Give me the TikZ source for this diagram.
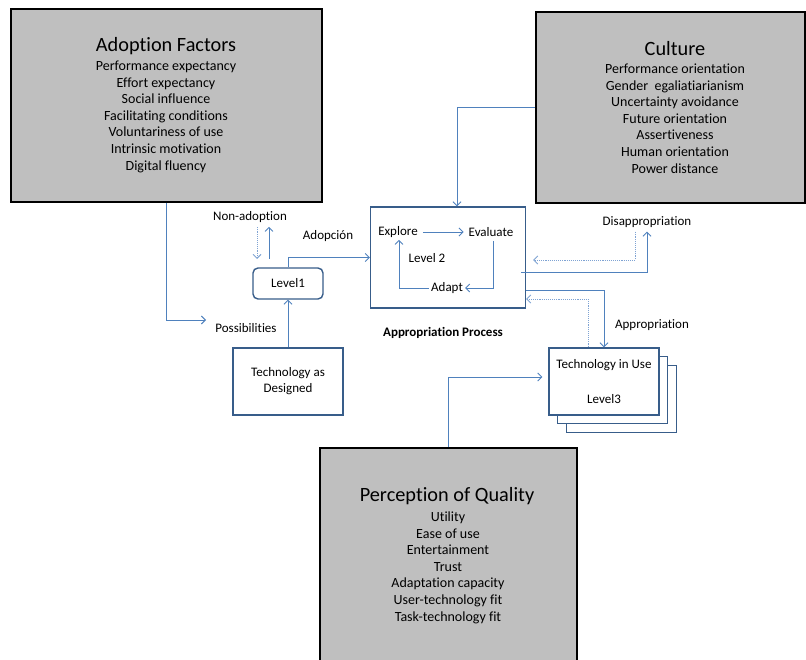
\documentclass[tikz,border=0pt]{standalone}
\usepackage{fontspec}
\setmainfont{Carlito}[Ligatures=CommonOff]
\usetikzlibrary{arrows.meta}
\definecolor{linkblue}{HTML}{4F81BD}
\definecolor{dotblue}{HTML}{7FA3D3}
\definecolor{boxblue}{HTML}{385D8A}
\definecolor{factorgray}{HTML}{BFBFBF}
\begin{document}
\begin{tikzpicture}[x=1pt, y=-1pt, >={Straight Barb[length=4pt,width=8pt]},
    factorbox/.style={draw=black, line width=2pt, fill=factorgray, inner sep=0pt},
    levelbox/.style={draw=boxblue, line width=1.4pt, fill=white, inner sep=0pt},
    link/.style={draw=linkblue, line width=0.9pt},
    backlink/.style={draw=dotblue, line width=0.9pt, densely dotted},
    txt/.style={font=\fontsize{13}{16}\selectfont, inner sep=2pt},
    head/.style={font=\fontsize{20.3}{24}\selectfont, inner sep=0pt},
    item/.style={font=\fontsize{14}{17}\selectfont, inner sep=0pt, anchor=base}]
    \useasboundingbox (0,0) rectangle (806,660);

    \node[factorbox, minimum width=311pt, minimum height=193pt] (adopt) at (166.5,105.5) {};
    \node[head] (adopthead) at (166,46) {Adoption Factors};
    \foreach \t [count=\i] in {Performance expectancy, Effort expectancy, Social influence,
        Facilitating conditions, Voluntariness of use, Intrinsic motivation, Digital fluency}
        \node[item] (adopt-\i) at (166,70.5+16.6*\i-16.6) {\t};

    \node[factorbox, minimum width=269pt, minimum height=191pt] (culture) at (670.5,107.5) {};
    \node[head] (culturehead) at (675,49) {Culture};
    \foreach \t [count=\i] in {Performance orientation, Gender\ \ egaliatiarianism, Uncertainty avoidance,
        Future orientation, Assertiveness, Human orientation, Power distance}
        \node[item] (culture-\i) at (675,73.5+16.6*\i-16.6) {\t};

    \node[factorbox, minimum width=257pt, minimum height=222pt] (percep) at (448.5,559) {};
    \node[head] (percephead) at (447,496) {Perception of Quality};
    \foreach \t [count=\i] in {Utility, Ease of use, Entertainment, Trust,
        Adaptation capacity, User-technology fit, Task-technology fit}
        \node[item] (percep-\i) at (448,521.5+16.6*\i-16.6) {\t};

    \node[levelbox, rounded corners=5pt, minimum width=70pt, minimum height=31pt, txt] (lvone) at (288,283.5) {Level1};
    \node[levelbox, minimum width=155pt, minimum height=101pt] (lvtwo) at (448,257.5) {};
    \node[levelbox, minimum width=110pt, minimum height=67pt, txt, align=center] (techdes) at (288,381.5) {Technology as\\Designed};
    \node[levelbox, minimum width=110pt, minimum height=67pt] (techuse3) at (621.5,399) {};
    \node[levelbox, minimum width=110pt, minimum height=67pt] (techuse2) at (612.5,390) {};
    \node[levelbox, minimum width=110pt, minimum height=67pt] (techuse) at (604,381.5) {};
    \node[txt] (techusetxt) at (604,365) {Technology in Use};
    \node[txt] (lvthree) at (604,399) {Level3};

    \node[txt] (explore) at (398,232) {Explore};
    \node[txt] (evaluate) at (491,232) {Evaluate};
    \node[txt] (lvtwolabel) at (427,258) {Level 2};
    \node[txt] (adapt) at (447,288) {Adapt};

    \node[txt] (nonadopt) at (250,217) {Non-adoption};
    \node[txt] (adopcion) at (328,236) {Adopción};
    \node[txt] (possib) at (246,328) {Possibilities};
    \node[txt] (disapp) at (647,222) {Disappropriation};
    \node[txt] (appr) at (652,325) {Appropriation};
    \node[txt, font=\fontsize{13}{16}\selectfont\bfseries] (process) at (443,333) {Appropriation Process};

    \coordinate (possin) at (206,320);
    \coordinate (nonin) at (257,259);
    \coordinate (nonout) at (269,259);

    \draw[link, ->] (adopt.south) |- (possin);
    \draw[backlink, ->, shorten <=2pt] (nonadopt.south -| nonin) -- (nonin);
    \draw[link, ->, shorten >=2pt] (nonout) -- (nonadopt.south -| nonout);
    \draw[link, ->] (lvone.north) |- (lvtwo.west);
    \draw[link, ->] (techdes) -- (lvone);
    \draw[link, ->] (culture.west) -| ([xshift=9pt]lvtwo.north);

    \draw[link, ->, shorten <=3pt, shorten >=3pt] (explore) -- (evaluate);
    \draw[link, ->, shorten <=2pt] ([xshift=2pt]evaluate.south) |- (adapt);
    \draw[link, ->] (adapt) -| ([xshift=1pt]explore.south);

    \draw[link, ->, shorten >=2pt] ([xshift=-5pt,yshift=-15pt]lvtwo.east) -| (disapp);
    \draw[backlink, ->, shorten <=2pt] ([xshift=-12pt]disapp.south) |- ([xshift=7pt,yshift=-2.5pt]lvtwo.east);
    \draw[link, ->] ([yshift=-32.5pt]lvtwo.east) -| (techuse);
    \draw[backlink, ->] ([xshift=-16pt]techuse.north) |- ([yshift=-41.5pt]lvtwo.east);
    \draw[link, ->] ([xshift=-0.5pt]percep.north) |- ([xshift=-6pt,yshift=4.5pt]techuse.west);
\end{tikzpicture}
\end{document}
